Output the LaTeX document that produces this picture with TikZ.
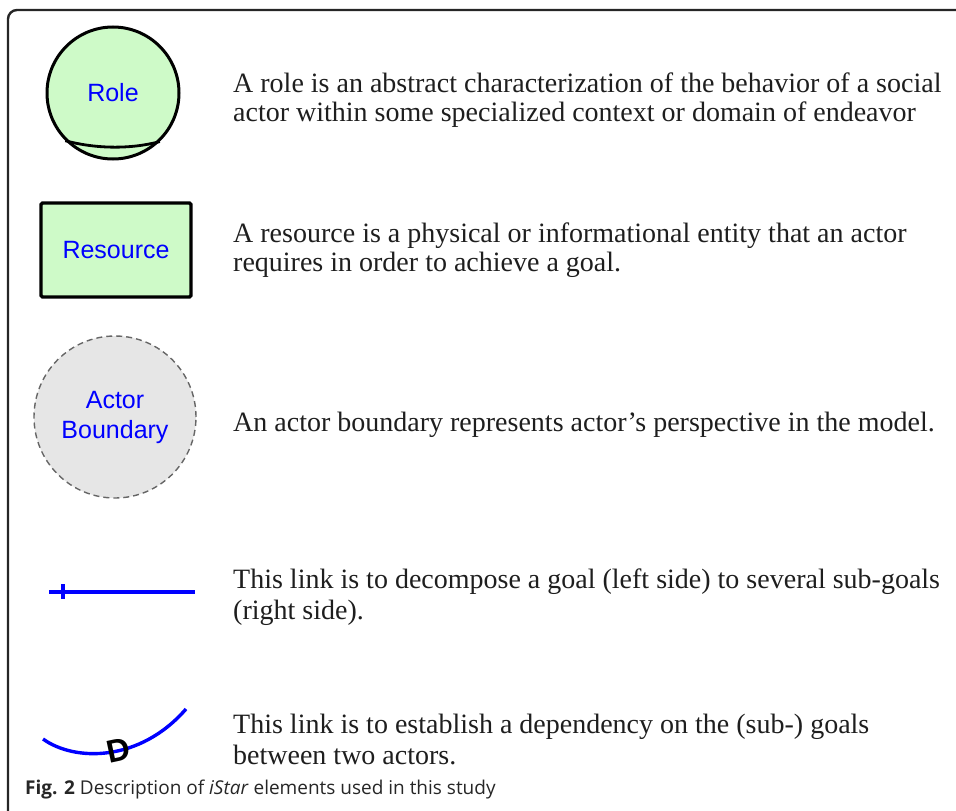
\documentclass[tikz,border=0pt]{standalone}
\usepackage{fontspec}
\setmainfont{Liberation Serif}
\newfontfamily\arialf{Liberation Sans}
\newfontfamily\capf{Open Sans}
\definecolor{rgreen}{RGB}{206,250,200}
\definecolor{agray}{RGB}{230,230,230}
\definecolor{txt}{RGB}{30,30,30}
\begin{document}
\begin{tikzpicture}[x=1pt,y=-1pt,
  desc/.style={anchor=base west, inner sep=0pt, text=txt, font=\fontsize{28}{30}\selectfont},
  elem/.style={text=blue, font=\arialf\fontsize{25}{30}\selectfont, align=center},
  bluelink/.style={draw=blue, line width=3.4pt}]
\useasboundingbox (0,0) rectangle (956,811);
% frame
\draw[line width=2.4pt, draw=black!85, rounded corners=9pt] (8,812) -- (8,10) -- (960,10);
% role
\node[elem, circle, draw=black, line width=3pt, fill=rgreen, minimum size=132pt, inner sep=0pt] (role) at (113,93) {Role};
\draw[line width=2.8pt] (role.225.6) .. controls +(30,8) and +(-30,8) .. (role.314.4);
\node[desc] (t1a) at (233,92) {A role is an abstract characterization of the behavior of a social};
\node[desc] (t1b) at (233,121) {actor within some specialized context or domain of endeavor};
% resource
\node[elem, rectangle, rounded corners=1.5pt, draw=black, line width=3.4pt, fill=rgreen, minimum width=150pt, minimum height=94pt, inner sep=0pt] (res) at (116,250) {Resource};
\node[desc] (t2a) at (233,242) {A resource is a physical or informational entity that an actor};
\node[desc] (t2b) at (233,271) {requires in order to achieve a goal.};
% actor boundary
\node[elem, circle, draw=black!60, dash pattern=on 6pt off 4pt, line width=1.4pt, fill=agray, minimum size=162pt, inner sep=0pt] (act) at (115,417) {Actor\\Boundary};
\node[desc] (t3) at (233,431) {An actor boundary represents actor’s perspective in the model.};
% decomposition link
\coordinate (d1) at (49,592);
\coordinate (d2) at (195,592);
\coordinate (k1) at (63,584);
\coordinate (k2) at (63,599);
\draw[bluelink] (d1) -- (d2);
\draw[bluelink] (k1) -- (k2);
\node[desc] (t4a) at (233,588) {This link is to decompose a goal (left side) to several sub-goals};
\node[desc] (t4b) at (233,619) {(right side).};
% dependency link
\coordinate (e1) at (43,739);
\coordinate (e2) at (186,709);
\draw[bluelink] (e1) .. controls (75,762) and (140,762) .. (e2);
\node[rotate=12, font=\arialf\bfseries\fontsize{32}{34}\selectfont, inner sep=0pt] (dl) at (119,750) {D};
\node[desc] (t5a) at (233,733) {This link is to establish a dependency on the (sub-) goals};
\node[desc] (t5b) at (233,764) {between two actors.};
% caption
\node[anchor=base west, inner sep=0pt, text=black!85, font=\capf\fontsize{19}{21}\selectfont] (cap) at (25,794) {\textbf{Fig. 2} Description of \textit{iStar} elements used in this study};
\end{tikzpicture}
\end{document}
